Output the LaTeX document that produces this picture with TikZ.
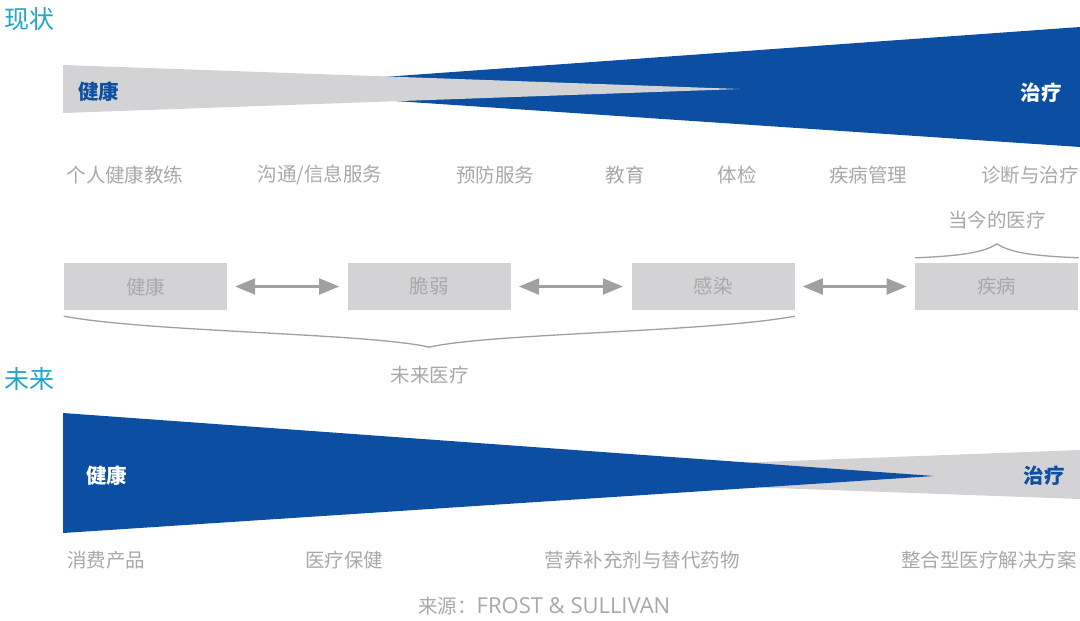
\documentclass[tikz,border=0pt]{standalone}
\usepackage{fontspec}
\setmainfont{Noto Sans CJK SC}
\newfontfamily\latinfont{Open Sans}
\usetikzlibrary{arrows.meta,calc}

\definecolor{wedgeblue}{HTML}{0B4EA2}
\definecolor{wedgegray}{HTML}{D3D3D5}
\definecolor{titlecyan}{HTML}{22A5C8}
\definecolor{labelgray}{HTML}{A8A8A8}
\definecolor{linegray}{HTML}{A0A0A0}

\begin{document}
\begin{tikzpicture}[x=1pt, y=-1pt]
        \tikzstyle{every node}=[inner sep=0pt, text=labelgray, font=\fontsize{19.5}{20}\selectfont]
        \tikzstyle{title}=[anchor=west, text=titlecyan, font=\fontsize{25}{26}\selectfont]
        \tikzstyle{wedgetext}=[font=\fontsize{20.5}{21}\selectfont\bfseries]
        \tikzstyle{stage}=[fill=wedgegray, minimum width=163pt, minimum height=47pt]
        \tikzstyle{flow}=[draw=linegray, line width=2.2pt, shorten <=8pt, shorten >=8.5pt,
          {Triangle[length=20pt,width=16pt]}-{Triangle[length=20pt,width=16pt]}]
        \tikzstyle{curly}=[draw=linegray, line width=1.3pt]

        \useasboundingbox (0,0) rectangle (1080,621);

        % today
        \path (4,19) node[title] (now) {现状};
        \fill[wedgeblue] (216,89) -- (1080,27) -- (1080,147) -- cycle;
        \fill[wedgegray] (63,65) -- (740,89) -- (63,113) -- cycle;
        \path (78,92) node[wedgetext, anchor=west, text=wedgeblue] (h0) {健康};
        \path (1062,93) node[wedgetext, anchor=east, text=white] (t0) {治疗};

        \foreach \x/\t [count=\i] in {125/个人健康教练, 320/{沟通/信息服务}, 495/预防服务,
          625/教育, 737/体检, 868/疾病管理, 1030/诊断与治疗}
        {
          \path (\x,175) node (s\i) {\t};
        }

        % stages
        \foreach \t [count=\i from 0] in {健康, 脆弱, 感染, 疾病}
        {
          \path (145.5+283.8*\i,286.5) node[stage] (b\i) {\t};
        }

        \foreach \i/\j in {0/1, 1/2, 2/3}
        {
          \draw[flow] (b\i) -- (b\j);
        }

        \coordinate (tl) at ([yshift=5pt]b3.north west);
        \coordinate (tr) at ([yshift=5pt]b3.north east);
        \coordinate (ttip) at ($(tl)!0.5!(tr)+(0,-14)$);
        \draw[curly] (tl) .. controls +(50,-2) and +(-12,8) .. (ttip)
          .. controls +(12,8) and +(-50,-2) .. (tr);
        \path (997,220) node (cur) {当今的医疗};

        \coordinate (bl) at ([yshift=-6pt]b0.south west);
        \coordinate (br) at ([yshift=-6pt]b2.south east);
        \coordinate (btip) at ($(bl)!0.5!(br)+(0,31)$);
        \draw[curly] (bl) .. controls +(86,16) and +(-59,-14) .. (btip)
          .. controls +(59,-14) and +(-86,16) .. (br);
        \path (429.5,375) node (fut) {未来医疗};

        % future
        \path (4,379) node[title] (later) {未来};
        \fill[wedgegray] (414,475) -- (1080,450) -- (1080,499) -- cycle;
        \fill[wedgeblue] (63,413) -- (934,476) -- (63,533) -- cycle;
        \path (86,476) node[wedgetext, anchor=west, text=white] (h1) {健康};
        \path (1065,476) node[wedgetext, anchor=east, text=wedgeblue] (t1) {治疗};

        \foreach \x/\t [count=\i] in {106/消费产品, 344/医疗保健, 642/营养补充剂与替代药物, 989/整合型医疗解决方案}
        {
          \path (\x,560) node (p\i) {\t};
        }

        \path (418,606) node[anchor=west] (src) {来源：{\latinfont\fontsize{22}{23}\selectfont FROST \& SULLIVAN}};
\end{tikzpicture}
\end{document}
